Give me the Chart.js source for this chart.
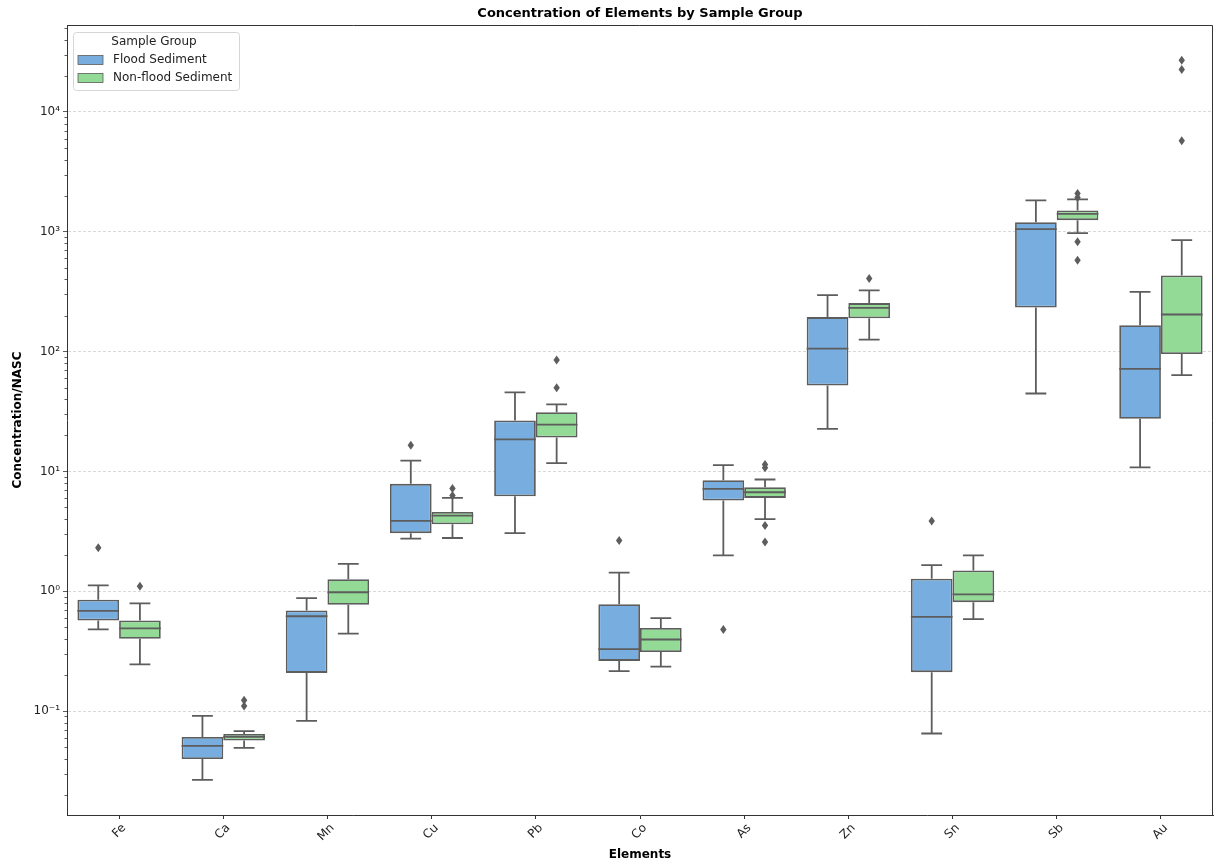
<!DOCTYPE html>
<html>
<head>
<meta charset="utf-8">
<script src="https://cdn.jsdelivr.net/npm/chart.js@4.4.1/dist/chart.umd.min.js"></script>
<style>
    html, body { margin: 0; padding: 0; background: #fff; }
    canvas { display: block; }
</style>
</head>
<body>
<canvas id="box_chart" width="1214" height="862"></canvas>
<script>
// data
const elements = ['Fe', 'Ca', 'Mn', 'Cu', 'Pb', 'Co', 'As', 'Zn', 'Sn', 'Sb', 'Au'];
const groups = ['Flood Sediment', 'Non-flood Sediment'];

// Flood Sediment
const flood_low = [0.48, 0.0266, 0.0827, 2.75, 3.05, 0.215, 1.99, 22.6, 0.0649, 44.7, 10.8];
const flood_q1 = [0.57, 0.0398, 0.208, 3.05, 6.21, 0.262, 5.72, 52, 0.211, 233, 27.5];
const flood_median = [0.685, 0.0512, 0.618, 3.86, 18.5, 0.328, 7.15, 106, 0.61, 1051, 71.8];
const flood_q3 = [0.85, 0.0608, 0.69, 7.87, 26.6, 0.778, 8.45, 194, 1.27, 1203, 166];
const flood_high = [1.12, 0.091, 0.874, 12.3, 45.6, 1.43, 11.3, 296, 1.65, 1825, 315];
const flood_outliers = [[2.3], [], [], [16.5], [], [2.65], [0.479], [], [3.86], [], []];

// Non-flood Sediment
const nonflood_low = [0.245, 0.0492, 0.443, 2.78, 11.7, 0.235, 3.99, 126, 0.584, 973, 63.5];
const nonflood_q1 = [0.40, 0.0567, 0.77, 3.62, 19.2, 0.311, 6.01, 190, 0.81, 1250, 95.5];
const nonflood_median = [0.49, 0.0608, 0.98, 4.28, 24.6, 0.395, 6.7, 232, 0.94, 1413, 204];
const nonflood_q3 = [0.57, 0.0644, 1.26, 4.59, 31.2, 0.494, 7.38, 254, 1.49, 1506, 431];
const nonflood_high = [0.79, 0.068, 1.69, 6.0, 36.2, 0.595, 8.56, 324, 1.99, 1862, 851];
const nonflood_outliers = [[1.1], [0.11, 0.123], [], [6.3, 7.2], [50, 85], [], [2.58, 3.53, 10.7, 11.4], [408], [], [579, 824, 1936, 2090], [5740, 22600, 27000]];

const y_tick_exponents = [-1, 0, 1, 2, 3, 4];

const FLOOD_COLOR = '#78ade0';
const NONFLOOD_COLOR = '#92da95';
const LINE_COLOR = '#5d5d5d';
const FONT = 'DejaVu Sans';

const stats = [
    {low: flood_low, q1: flood_q1, median: flood_median, q3: flood_q3, high: flood_high, outliers: flood_outliers},
    {low: nonflood_low, q1: nonflood_q1, median: nonflood_median, q3: nonflood_q3, high: nonflood_high, outliers: nonflood_outliers}
];

const SUP = {'-': '\u207B', '0': '\u2070', '1': '\u00B9', '2': '\u00B2', '3': '\u00B3', '4': '\u2074'};
function superscript(n) {
    return String(n).split('').map(c => SUP[c]).join('');
}

const boxPlugin = {
    id: 'boxParts',
    beforeDatasetsDraw(chart) {
        // whiskers and caps
        const ctx = chart.ctx;
        const y = chart.scales.y;
        ctx.save();
        ctx.strokeStyle = LINE_COLOR;
        ctx.lineWidth = 1.8;
        stats.forEach((s, d) => {
            chart.getDatasetMeta(d).data.forEach((bar, i) => {
                const half = bar.width / 4;
                const pairs = [[s.q3[i], s.high[i]], [s.q1[i], s.low[i]]];
                pairs.forEach(([from, to]) => {
                    ctx.beginPath();
                    ctx.moveTo(bar.x, y.getPixelForValue(from));
                    ctx.lineTo(bar.x, y.getPixelForValue(to));
                    ctx.moveTo(bar.x - half, y.getPixelForValue(to));
                    ctx.lineTo(bar.x + half, y.getPixelForValue(to));
                    ctx.stroke();
                });
            });
        });
        ctx.restore();
    },
    afterDatasetsDraw(chart) {
        const ctx = chart.ctx;
        const y = chart.scales.y;
        ctx.save();
        ctx.strokeStyle = LINE_COLOR;
        ctx.fillStyle = LINE_COLOR;
        ctx.lineWidth = 1.8;
        stats.forEach((s, d) => {
            chart.getDatasetMeta(d).data.forEach((bar, i) => {
                // median
                const my = y.getPixelForValue(s.median[i]);
                ctx.beginPath();
                ctx.moveTo(bar.x - bar.width / 2, my);
                ctx.lineTo(bar.x + bar.width / 2, my);
                ctx.stroke();
                // outliers as diamonds
                s.outliers[i].forEach(v => {
                    const oy = y.getPixelForValue(v);
                    ctx.beginPath();
                    ctx.moveTo(bar.x, oy - 4.5);
                    ctx.lineTo(bar.x + 3.2, oy);
                    ctx.lineTo(bar.x, oy + 4.5);
                    ctx.lineTo(bar.x - 3.2, oy);
                    ctx.closePath();
                    ctx.fill();
                });
            });
        });
        ctx.restore();
    },
    afterDraw(chart) {
        const ctx = chart.ctx;
        const area = chart.chartArea;
        const y = chart.scales.y;
        ctx.save();

        // minor ticks on the log axis
        ctx.strokeStyle = '#333';
        ctx.lineWidth = 0.8;
        for (let e = -2; e <= 4; e++) {
            for (let m = 2; m <= 9; m++) {
                const v = m * Math.pow(10, e);
                if (v < y.min || v > y.max) continue;
                const py = Math.round(y.getPixelForValue(v)) + 0.5;
                ctx.beginPath();
                ctx.moveTo(area.left - 2.5, py);
                ctx.lineTo(area.left, py);
                ctx.stroke();
            }
        }

        // top and right spines
        ctx.strokeStyle = '#333';
        ctx.lineWidth = 1;
        ctx.beginPath();
        ctx.moveTo(area.left, area.top + 0.5);
        ctx.lineTo(area.right - 0.5, area.top + 0.5);
        ctx.lineTo(area.right - 0.5, area.bottom);
        ctx.stroke();

        // title
        ctx.fillStyle = '#000';
        ctx.font = 'bold 13px "' + FONT + '"';
        ctx.textAlign = 'center';
        ctx.textBaseline = 'middle';
        ctx.fillText('Concentration of Elements by Sample Group', (area.left + area.right) / 2, 14);

        // legend
        const lx = 73, ly = 32, lw = 166, lh = 58;
        ctx.beginPath();
        ctx.roundRect(lx + 0.5, ly + 0.5, lw, lh, 3);
        ctx.fillStyle = 'rgba(255,255,255,0.85)';
        ctx.fill();
        ctx.strokeStyle = '#d6d6d6';
        ctx.lineWidth = 1;
        ctx.stroke();

        ctx.font = '12px "' + FONT + '"';
        ctx.fillStyle = '#222';
        ctx.textAlign = 'center';
        ctx.fillText('Sample Group', lx + lw / 2 - 2, ly + 10);
        const colors = [FLOOD_COLOR, NONFLOOD_COLOR];
        groups.forEach((g, k) => {
            const ey = ly + 28 + k * 18;
            ctx.fillStyle = colors[k];
            ctx.fillRect(lx + 5, ey - 4.5, 25, 9);
            ctx.strokeStyle = LINE_COLOR;
            ctx.lineWidth = 0.8;
            ctx.strokeRect(lx + 5, ey - 4.5, 25, 9);
            ctx.fillStyle = '#222';
            ctx.textAlign = 'left';
            ctx.fillText(g, lx + 40, ey);
        });
        ctx.restore();
    }
};

const data = {
    labels: elements,
    datasets: [
        {
            label: groups[0],
            data: flood_q1.map((v, i) => [v, flood_q3[i]]),
            backgroundColor: FLOOD_COLOR,
            borderColor: LINE_COLOR,
            borderWidth: 1.8,
            borderSkipped: false
        },
        {
            label: groups[1],
            data: nonflood_q1.map((v, i) => [v, nonflood_q3[i]]),
            backgroundColor: NONFLOOD_COLOR,
            borderColor: LINE_COLOR,
            borderWidth: 1.8,
            borderSkipped: false
        }
    ]
};

const config = {
    type: 'bar',
    data: data,
    plugins: [boxPlugin],
    options: {
        responsive: false,
        animation: false,
        devicePixelRatio: 1,
        categoryPercentage: 0.8,
        barPercentage: 1.0,
        layout: {
            padding: {top: 25, right: 1, left: 0, bottom: 0}
        },
        scales: {
            x: {
                type: 'category',
                offset: true,
                afterFit: function (scale) { scale.height = 47; },
                grid: {
                    display: true,
                    offset: false,
                    drawOnChartArea: false,
                    drawTicks: true,
                    tickLength: 4,
                    tickColor: '#333'
                },
                border: {color: '#333', width: 1},
                ticks: {
                    minRotation: 45,
                    maxRotation: 45,
                    labelOffset: 5,
                    padding: 2,
                    color: '#222',
                    font: {family: FONT, size: 12}
                },
                title: {
                    display: true,
                    text: 'Elements',
                    color: '#000',
                    padding: {top: 0, bottom: 0},
                    font: {family: FONT, size: 12, weight: 'bold'}
                }
            },
            y: {
                type: 'logarithmic',
                min: 0.01355,
                max: 53200,
                afterFit: function (scale) { scale.width = 67; },
                afterBuildTicks: function (scale) {
                    scale.ticks = y_tick_exponents.map(e => ({value: Math.pow(10, e)}));
                },
                grid: {
                    color: '#cfcfcf',
                    lineWidth: 0.8,
                    tickColor: '#333',
                    tickLength: 4
                },
                border: {color: '#333', width: 1, dash: [3, 2]},
                ticks: {
                    color: '#222',
                    padding: 3,
                    font: {family: FONT, size: 12},
                    callback: function (value) {
                        const e = Math.round(Math.log10(value));
                        return '10' + superscript(e);
                    }
                },
                title: {
                    display: true,
                    text: 'Concentration/NASC',
                    color: '#000',
                    padding: {top: 11, bottom: 0},
                    font: {family: FONT, size: 12, weight: 'bold'}
                }
            }
        },
        plugins: {
            legend: {display: false},
            title: {display: false},
            tooltip: {enabled: false}
        }
    }
};

const myChart = new Chart(document.getElementById('box_chart'), config);
</script>
</body>
</html>
